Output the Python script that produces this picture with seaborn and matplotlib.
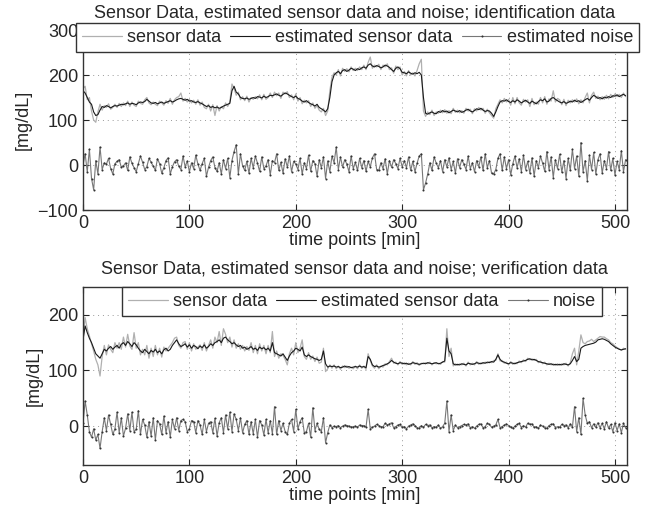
import numpy as np
import pandas as pd
import matplotlib
matplotlib.use("Agg")
import matplotlib.pyplot as plt
import seaborn as sns

# time axis, one sample every 2 min
t = np.arange(0, 512, 2)

# ---------------- identification data ----------------
id_sensor = [
    170,175,145,150,120,100,95,118,135,122,132,128,136,124,128,135,
    128,137,130,138,132,142,130,140,133,130,142,137,135,145,150,138,
    134,140,135,132,142,138,133,143,137,148,135,145,150,152,160,142,
    148,140,146,138,144,135,145,133,140,128,125,135,120,134,110,132,
    120,130,125,138,130,140,180,170,155,162,145,152,143,153,140,150,
    146,152,147,156,145,157,146,150,160,150,162,154,160,148,162,158,
    163,150,156,145,158,142,150,136,144,138,143,130,138,126,132,122,
    118,126,110,120,165,195,205,200,212,198,215,208,214,207,218,210,
    215,210,218,212,222,212,228,240,215,222,218,224,212,222,218,225,
    212,216,204,220,212,218,200,208,198,210,200,205,198,210,225,235,
    120,108,118,112,122,110,118,115,122,116,123,115,121,114,126,117,
    122,116,121,115,126,120,124,114,125,120,128,122,126,115,124,116,
    110,104,125,135,145,138,148,140,146,133,150,136,150,138,133,146,
    140,145,130,148,134,140,135,150,138,152,135,147,142,165,140,148,
    145,134,146,132,144,138,145,140,147,136,145,138,150,160,138,155,
    162,148,153,145,152,146,155,147,157,150,158,152,157,150,160,152,
]
id_estimate = [
    165,160,150,140,135,118,110,112,122,130,128,132,130,127,130,132,
    131,133,135,134,136,138,135,137,136,134,138,140,139,141,146,142,
    138,137,139,136,138,140,137,139,141,143,140,142,145,147,148,146,
    144,146,142,143,140,139,141,138,136,133,130,132,128,130,127,129,
    126,128,131,133,135,137,165,175,162,158,150,148,147,149,146,148,
    150,148,152,151,149,153,150,152,155,154,156,158,155,153,157,160,
    158,155,152,150,153,148,146,142,140,143,139,136,134,131,135,128,
    125,122,118,125,150,185,200,205,208,203,210,212,208,211,215,213,
    210,214,212,216,218,215,222,225,220,218,221,219,216,218,222,220,
    217,212,208,215,218,214,206,205,203,207,204,202,205,203,206,200,
    150,115,113,116,118,115,114,119,117,121,118,120,116,119,122,120,
    118,121,117,119,122,124,120,118,121,125,123,126,122,119,121,120,
    115,108,118,130,140,143,142,145,141,139,143,140,145,142,138,141,
    144,140,137,142,139,136,141,145,143,147,140,142,148,150,146,143,
    140,138,141,137,139,142,140,144,141,143,139,142,145,148,144,150,
    155,152,148,150,147,151,149,152,150,154,153,156,152,155,157,154,
]
id_noise = [
    0,25,-15,35,-30,-55,10,-20,40,-10,5,2,15,-8,-20,3,
    8,12,-5,-2,5,-12,18,4,-6,-15,3,20,6,-10,-4,15,
    6,-2,-12,14,3,-18,-6,10,16,-20,-4,7,12,-3,-10,20,
    -4,9,-15,5,-8,22,2,-12,3,15,-25,-5,10,18,-6,-14,
    5,-20,12,-8,15,-28,10,30,45,-20,25,-2,-12,8,-18,15,
    -6,20,4,-14,18,-8,-2,12,-22,10,5,25,-12,6,-18,14,
    -4,20,-15,8,2,-10,15,-20,5,-8,22,-14,10,3,-25,12,
    -6,18,-30,9,-15,20,5,40,-10,18,-5,12,2,-15,20,-8,
    6,-12,15,-6,10,-14,8,-4,16,25,-10,-12,5,-8,14,-20,
    10,-5,12,3,-8,15,-4,10,-6,18,-12,8,-15,4,20,25,
    -55,-40,-20,5,-12,18,4,-6,10,-15,12,-4,16,-10,8,-18,
    14,-6,12,2,-10,20,-8,5,-15,10,-4,18,-12,25,-6,10,
    -18,-20,-10,15,25,-12,18,-8,12,-22,3,20,-6,14,-15,22,
    -10,8,-18,16,-25,10,-6,20,4,-14,30,-10,18,-28,12,-8,
    24,-16,10,-30,15,-12,35,-8,20,-25,50,-15,10,-35,22,-10,
    28,-20,12,25,-18,10,-8,30,-12,15,-22,8,-10,32,-15,12,
]

# ---------------- verification data ----------------
ver_sensor = [
    160,195,175,162,148,135,120,110,90,125,145,128,146,138,132,150,
    140,150,138,160,142,165,144,138,168,140,150,128,138,128,145,122,
    140,125,145,128,140,124,142,135,140,145,150,158,160,145,140,150,
    152,138,150,135,148,138,142,146,136,150,135,145,155,140,160,150,
    170,145,175,165,150,160,142,155,140,148,138,145,135,143,136,150,
    132,145,130,148,135,145,130,145,132,170,125,135,122,130,127,120,
    110,130,140,128,150,132,140,155,125,120,132,120,126,116,124,113,
    115,140,98,103,110,104,110,103,108,102,108,105,108,104,106,103,
    108,103,110,104,108,102,130,118,108,104,110,103,108,106,112,110,
    116,122,113,115,110,116,111,114,110,113,110,116,111,114,109,113,
    112,114,112,115,110,114,112,113,111,116,115,175,125,140,108,112,
    109,112,110,113,108,115,110,113,110,116,111,114,112,115,113,116,
    114,118,118,130,117,118,113,115,110,116,111,114,112,117,114,119,
    116,122,119,121,118,120,114,117,112,115,110,113,110,112,109,112,
    109,112,110,113,108,114,130,140,110,135,164,150,148,152,153,156,
    152,155,158,161,160,160,157,155,150,148,144,141,139,136,140,138,
]
ver_estimate = [
    155,180,168,158,150,140,130,126,122,130,138,135,140,143,138,142,
    145,140,147,150,145,152,148,143,150,146,140,135,132,138,134,130,
    136,133,138,132,135,130,137,140,135,138,145,150,155,148,143,145,
    148,142,146,140,145,143,139,144,141,146,140,143,148,145,150,152,
    155,150,158,160,155,152,148,150,146,143,145,140,142,138,140,143,
    138,140,136,142,139,141,137,140,135,150,132,130,128,126,130,124,
    118,126,132,135,140,138,135,142,128,125,128,125,123,121,120,118,
    120,135,112,106,108,107,108,106,107,105,106,108,106,107,105,106,
    107,106,108,106,107,105,125,120,110,107,108,106,107,109,110,112,
    114,118,115,113,112,114,113,112,113,111,112,114,113,112,111,112,
    113,112,114,113,112,113,114,112,113,115,117,158,135,130,112,110,
    111,110,112,111,110,113,112,111,112,114,113,112,114,113,115,114,
    116,115,120,128,120,116,115,113,112,114,113,112,114,115,116,117,
    118,120,121,119,120,118,116,115,114,113,112,111,112,110,111,110,
    111,110,112,111,110,112,118,125,116,120,140,143,145,146,147,148,
    149,151,155,156,157,156,154,152,148,145,142,140,138,137,138,139,
]
ver_noise = [
    5,45,20,-10,-20,-5,-25,-15,-40,-10,15,-8,20,3,-15,-5,
    25,-12,15,-18,-4,22,-8,25,-10,-6,28,-15,12,2,-20,8,
    -18,15,-25,10,4,-15,18,-12,8,-20,12,-5,15,-8,10,12,
    8,-10,-5,10,8,-12,10,2,-15,12,-10,5,8,-12,14,-18,
    6,15,-12,20,-5,25,-10,22,12,-8,15,-12,3,10,-15,8,
    -14,12,-20,10,2,-16,12,-12,10,-14,35,-15,10,-8,5,-10,
    -15,5,12,-10,30,-5,8,15,-12,-10,5,-20,33,-8,5,-6,
    -10,15,-30,-12,2,-3,0,-1,1,-3,0,2,1,0,-2,-1,
    0,-2,2,1,1,-2,30,-5,-2,0,3,1,-1,-1,5,2,
    4,6,-3,-1,2,3,-2,-1,-5,0,2,4,1,-3,-4,1,
    -2,3,1,2,-3,-1,-2,2,-4,-1,5,45,-10,20,-8,2,
    -3,-1,1,3,2,4,-3,-1,-4,0,3,4,-3,-1,5,3,
    -2,0,2,12,-3,-1,2,4,1,-2,-4,0,3,5,-3,1,
    -2,5,3,4,-2,-1,-4,2,0,-3,-4,1,3,4,-3,-1,
    -2,3,1,2,-3,4,-2,35,-10,15,-15,50,20,5,8,-3,
    4,-2,6,-3,5,-5,8,-4,3,-10,6,-8,4,-12,5,-3,
]

sns.set_style("ticks")
plt.rcParams["font.family"] = ["Liberation Sans", "DejaVu Sans"]
plt.rcParams["xtick.direction"] = "in"
plt.rcParams["ytick.direction"] = "in"

C_SENSOR = "#b0b0b0"
C_EST = "#1a1a1a"
C_NOISE = "#777777"
FS = 13

fig = plt.figure(figsize=(6.5, 5.14), dpi=100)
ax1 = fig.add_axes([0.1277, 0.5914, 0.8364, 0.3502])
ax2 = fig.add_axes([0.1277, 0.0953, 0.8364, 0.3463])

panels = [
    (ax1, id_sensor, id_estimate, id_noise, "estimated noise",
     "Sensor Data, estimated sensor data and noise; identification data",
     (-100, 300), [-100, 0, 100, 200, 300], (0.55, 0.956), 9),
    (ax2, ver_sensor, ver_estimate, ver_noise, "noise",
     "Sensor Data, estimated sensor data and noise; verification data",
     (-70, 250), [0, 100, 200], (0.557, 0.4425), 10),
]

for ax, sen, est, noi, noise_lbl, title, ylim, yticks, leg_pos, tpad in panels:
    df = pd.DataFrame({"t": t, "sensor": sen, "est": est, "noise": noi})
    sns.lineplot(data=df, x="t", y="sensor", ax=ax, color=C_SENSOR, lw=0.9,
                 label="sensor data")
    sns.lineplot(data=df, x="t", y="est", ax=ax, color=C_EST, lw=0.8,
                 label="estimated sensor data")
    sns.lineplot(data=df, x="t", y="noise", ax=ax, color=C_NOISE, lw=0.8,
                 marker=".", markersize=3, markeredgewidth=0,
                 markerfacecolor="#333333", label=noise_lbl)

    ax.set_xlim(0, 511)
    ax.set_ylim(*ylim)
    ax.set_xticks([0, 100, 200, 300, 400, 500])
    ax.set_yticks(yticks)
    ax.tick_params(labelsize=FS, top=True, right=True, length=4, width=0.8)
    ax.grid(True, linestyle=(0, (1, 4)), color="#999999", lw=0.7)
    for sp in ax.spines.values():
        sp.set_visible(True)
        sp.set_linewidth(1.0)
        sp.set_color("#333333")
    ax.set_xlabel("time points [min]", fontsize=FS, labelpad=0)
    ax.set_ylabel("[mg/dL]", fontsize=FS, labelpad=4)
    ax.set_title(title, fontsize=FS, pad=tpad)

    leg = ax.legend(loc="upper center", bbox_to_anchor=leg_pos,
                    bbox_transform=fig.transFigure, ncol=3, fontsize=FS,
                    frameon=True, fancybox=False, framealpha=1,
                    edgecolor="#333333", handlelength=2.2, handletextpad=0.3,
                    columnspacing=0.5, borderpad=0.35, borderaxespad=0)
    leg.get_frame().set_linewidth(1.0)

fig.savefig("out.png", dpi=100)
